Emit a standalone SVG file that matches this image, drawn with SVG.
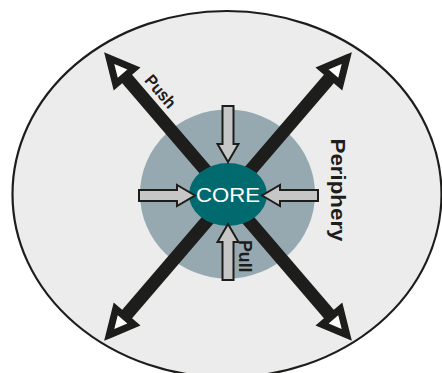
<svg xmlns="http://www.w3.org/2000/svg" width="442" height="373" viewBox="0 0 442 373">
  <style>
    .bar { stroke: #1d1d1b; stroke-width: 13; stroke-linecap: butt; fill: none; }
    .head { fill: #ffffff; stroke: #1d1d1b; stroke-width: 7; stroke-linejoin: miter; }
    .inarrow { fill: #c6c6c6; stroke: #1d1d1b; stroke-width: 2; stroke-linejoin: miter; }
    .lbl { font-family: "Liberation Sans", Arial, sans-serif; font-weight: bold; fill: #1d1d1b; }
    .core-text { font-family: "Liberation Sans", Arial, sans-serif; fill: #ffffff; font-size: 21px; }
  </style>
  <defs>
    <!-- hollow arrowhead, tip at origin, pointing along +x -->
    <polygon id="tip" class="head" points="-8,0 -32,-12 -32,12"/>
    <!-- small inward arrow, tip at origin, pointing along +x -->
    <path id="pushIn" class="inarrow" d="M0,0 L-18,-10.5 L-18,-5.5 L-56,-5.5 L-56,5.5 L-18,5.5 L-18,10.5 Z"/>
  </defs>

  <!-- periphery field -->
  <g id="periphery">
    <ellipse cx="227" cy="194.2" rx="214.5" ry="183.2" fill="#ececec" stroke="#1d1d1b" stroke-width="2.2"/>
  </g>

  <!-- core zone -->
  <g id="core-zone">
    <ellipse cx="227.5" cy="194" rx="87.5" ry="84.5" fill="#97a9b0"/>
  </g>

  <!-- outward diagonal push arrows -->
  <g id="connectors">
    <line class="bar" x1="124.8" y1="76.3" x2="331.2" y2="316.7"/>
    <line class="bar" x1="331.2" y1="76.3" x2="124.8" y2="316.7"/>
    <use href="#tip" transform="translate(104,52) rotate(-130.6)"/>
    <use href="#tip" transform="translate(352,52) rotate(-49.4)"/>
    <use href="#tip" transform="translate(104,341) rotate(130.6)"/>
    <use href="#tip" transform="translate(352,341) rotate(49.4)"/>
  </g>

  <!-- core -->
  <g id="core">
    <ellipse cx="228" cy="194.5" rx="39" ry="31.5" fill="#006a6f"/>
    <text class="core-text" x="228" y="202" text-anchor="middle" textLength="64" lengthAdjust="spacingAndGlyphs">CORE</text>
  </g>

  <!-- inward pull arrows -->
  <g id="pull-arrows">
    <use href="#pushIn" transform="translate(195,195.5)"/>
    <use href="#pushIn" transform="translate(262,195.5) rotate(180)"/>
    <use href="#pushIn" transform="translate(228,162) rotate(90)"/>
    <use href="#pushIn" transform="translate(228,224) rotate(-90)"/>
  </g>

  <!-- labels -->
  <g id="label-push">
    <text class="lbl" font-size="17" transform="translate(156.1,95.2) rotate(49.4)" text-anchor="middle" textLength="38" lengthAdjust="spacingAndGlyphs">Push</text>
  </g>
  <g id="label-pull">
    <text class="lbl" font-size="19" transform="translate(238.5,240) rotate(90)" textLength="32.5" lengthAdjust="spacingAndGlyphs">Pull</text>
  </g>
  <g id="label-periphery">
    <text class="lbl" font-size="19.5" transform="translate(331,138.5) rotate(90)" textLength="103" lengthAdjust="spacingAndGlyphs">Periphery</text>
  </g>
</svg>
